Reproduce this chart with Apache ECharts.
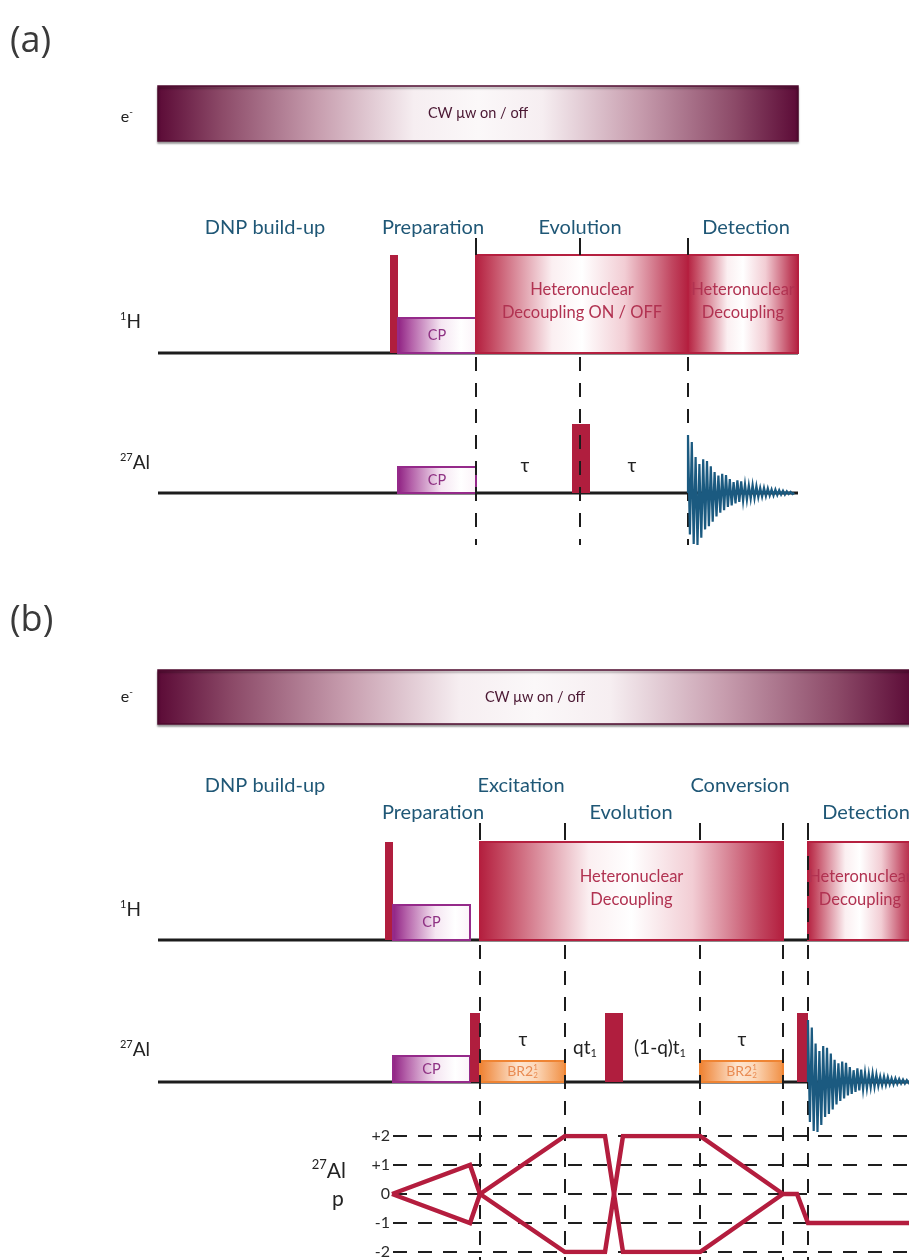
<!DOCTYPE html>
<html>
<head>
<meta charset="utf-8">
<title>DNP-enhanced 27Al pulse sequences</title>
<script src="https://cdn.jsdelivr.net/npm/echarts@6/dist/echarts.min.js"></script>
<style>
html, body { margin: 0; padding: 0; background: #ffffff; }
#chart { width: 909px; height: 1260px; }
</style>
</head>
<body>
<div id="chart"></div>
<script>
// ---------- sequence (a): CP, echo on 27Al, detection ----------
const aMicrowave = [158, 798];
const aChannelSpan = [158, 798];
const aProton = [
  [390, 398, 'pulse'],
  [398, 476, 'cp', 'CP'],
  [476, 688, 'dec', 'Heteronuclear\nDecoupling ON / OFF'],
  [688, 798, 'dec', 'Heteronuclear\nDecoupling']
];
const aAluminium = [
  [398, 476, 'cp', 'CP'],
  [572, 590, 'pulse']
];
const aBoundaries = [476, 580, 688];
const aDelays = [['τ', 525], ['τ', 632]];
const aPhases = [['DNP build-up', 265], ['Preparation', 433], ['Evolution', 580], ['Detection', 746]];
const aFidStart = 688;

// ---------- sequence (b): CP, BR2 recoupled excitation / conversion ----------
const bMicrowave = [158, 912];
const bChannelSpan = [158, 909];
const bProton = [
  [385, 393, 'pulse'],
  [393, 470, 'cp', 'CP'],
  [480, 783, 'dec', 'Heteronuclear\nDecoupling'],
  [808, 912, 'dec', 'Heteronuclear\nDecoupling']
];
const bAluminium = [
  [393, 470, 'cp', 'CP'],
  [470, 480, 'pulse'],
  [480, 565, 'br2', 'BR2^1_2'],
  [605, 623, 'pulse'],
  [700, 783, 'br2', 'BR2^1_2'],
  [797, 808, 'pulse']
];
const bBoundaries = [480, 565, 700, 783, 808];
const bDelays = [['τ', 523], ['qt_1', 585], ['(1-q)t_1', 660], ['τ', 742]];
const bPhasesUpper = [['DNP build-up', 265], ['Excitation', 521], ['Conversion', 740]];
const bPhasesLower = [['Preparation', 433], ['Evolution', 631], ['Detection', 866]];
const bFidStart = 808;

// FID envelope, successive positive / negative excursions (relative)
const fidUpper = [1.00, 0.88, 0.62, 0.50, 0.58, 0.55, 0.46, 0.36, 0.30, 0.33, 0.31, 0.24, 0.19, 0.22,
                  0.20, 0.15, 0.13, 0.14, 0.12, 0.09, 0.09, 0.08, 0.06, 0.06, 0.05, 0.04, 0.03, 0.02];
const fidLower = [0.80, 0.98, 1.00, 0.86, 0.70, 0.64, 0.55, 0.45, 0.38, 0.33, 0.27, 0.24, 0.20, 0.17,
                  0.15, 0.13, 0.11, 0.10, 0.08, 0.07, 0.06, 0.05, 0.05, 0.04, 0.03, 0.03, 0.02, 0.02];

// coherence order pathway of sequence (b): [time, p]
const coherenceLevels = [-2, -1, 0, 1, 2];
const coherencePaths = [
  [[392, 0], [470, 1], [480, 0]],
  [[392, 0], [470, -1], [480, 0]],
  [[480, 0], [565, 2], [605, 2], [623, -2], [700, -2], [783, 0]],
  [[480, 0], [565, -2], [605, -2], [623, 2], [700, 2], [783, 0]],
  [[783, 0], [797, 0], [808, -1], [909, -1]]
];

// ---------- layout (page units, y grows downward) ----------
const LAYOUT = {
  a: { tag: 42, bar: [86, 141], phase: [228], tick: [238, 255], H: 353, Al: 493, dash: [357, 545],
       rowLabel: { e: 117, H: 322, Al: 463 }, delayY: [466, 466], fid: [58, 52] },
  b: { tag: 621, bar: [670, 724], phase: [786, 813], tick: [823, 840], H: 940, Al: 1082, dash: [945, 1260],
       rowLabel: { e: 697, H: 910, Al: 1050 }, delayY: [1040, 1048], fid: [62, 50] }
};
const HEIGHTS = {
  H: { pulse: 98, cp: 35, dec: 98 },
  Al: { pulse: 69, cp: 26, br2: 21 }
};
const FID_STEP = 3.8;
const FONT = 'Lato, "Open Sans", "DejaVu Sans", sans-serif';

const grad = stops => new echarts.graphic.LinearGradient(0, 0, 1, 0,
  stops.map(([offset, color]) => ({ offset, color })));

const BOX_STYLE = {
  pulse: { fill: '#b01e3e', stroke: null, lw: 0 },
  cp: { fill: grad([[0, '#8d1d80'], [0.18, '#b461a9'], [0.55, '#f5e6f2'], [0.8, '#ffffff'], [1, '#fbf2f8']]),
        stroke: '#952a8a', lw: 2 },
  dec: { fill: grad([[0, '#b31d3d'], [0.08, '#c44a62'], [0.36, '#fbeff1'], [0.5, '#ffffff'],
                     [0.7, '#f2cdd4'], [0.92, '#c14660'], [1, '#b31d3d']]),
         stroke: '#b51f3f', lw: 2 },
  br2: { fill: grad([[0, '#ee7f2e'], [0.45, '#fde6d2'], [0.65, '#fcd9bb'], [1, '#f08d40']]),
         stroke: '#ef8433', lw: 2 }
};
const MW_FILL = grad([[0, '#5b0a36'], [0.1, '#8c4a68'], [0.25, '#c79dae'], [0.4, '#f6eef1'],
                      [0.5, '#fbf8f9'], [0.6, '#f6eef1'], [0.75, '#c79dae'], [0.9, '#8c4a68'], [1, '#5b0a36']]);

const TEXT_STYLE = {
  tag:   { size: 36, color: '#3a3a3a', family: '"Open Sans", Lato, sans-serif' },
  phase: { size: 20, color: '#1f5776' },
  row:   { size: 19, color: '#222222' },
  e:     { size: 16, color: '#222222' },
  cw:    { size: 14.5, color: '#4a1732' },
  dec:   { size: 16.5, color: '#b13251', lh: 1.38 },
  cp:    { size: 14.5, color: '#8e3183' },
  br2:   { size: 14, color: '#e98b52' },
  delay: { size: 19, color: '#222222' },
  coh:   { size: 21, color: '#222222' }
};

// ---------- assemble drawable items ----------
const boxes = [], lines = [], texts = [], bars = [], fids = [];

function addChannel(items, base, heights, span) {
  lines.push({ x0: span[0], y0: base, x1: span[1], y1: base, kind: 'base' });
  items.forEach(([x0, x1, kind, label]) => {
    const h = heights[kind];
    boxes.push({ x0, x1, top: base - h, bottom: base, kind });
    if (label) {
      const off = kind === 'dec' ? -3 : 0;
      texts.push({ x: (x0 + x1) / 2, y: base - h / 2 + off, spec: label, st: kind });
    }
  });
}

function addPanel(L, tag, mw, span, proton, aluminium, bounds, delays, phaseRows, fidStart) {
  texts.push({ x: 10, y: L.tag, spec: tag, st: 'tag', align: 'left' });
  bars.push({ x0: mw[0], x1: mw[1], top: L.bar[0], bottom: L.bar[1] });
  texts.push({ x: (mw[0] + mw[1]) / 2, y: (L.bar[0] + L.bar[1]) / 2, spec: 'CW μw on / off', st: 'cw' });
  texts.push({ x: 133, y: L.rowLabel.e, spec: 'e^-', st: 'e', align: 'right' });
  texts.push({ x: 141, y: L.rowLabel.H, spec: '^1H', st: 'row', align: 'right' });
  texts.push({ x: 150, y: L.rowLabel.Al, spec: '^27Al', st: 'row', align: 'right' });
  phaseRows.forEach((row, i) => row.forEach(([t, x]) => texts.push({ x, y: L.phase[i], spec: t, st: 'phase' })));
  addChannel(proton, L.H, HEIGHTS.H, span);
  addChannel(aluminium, L.Al, HEIGHTS.Al, span);
  bounds.forEach(x => {
    lines.push({ x0: x, y0: L.tick[0], x1: x, y1: L.tick[1], kind: 'tick' });
    lines.push({ x0: x, y0: L.dash[0], x1: x, y1: L.dash[1], kind: 'dash' });
  });
  delays.forEach(([t, x]) => texts.push({ x, y: t === 'τ' ? L.delayY[0] : L.delayY[1], spec: t, st: 'delay' }));
  fids.push({ x: fidStart, base: L.Al, up: L.fid[0], down: L.fid[1] });
}

addPanel(LAYOUT.a, '(a)', aMicrowave, aChannelSpan, aProton, aAluminium, aBoundaries,
         aDelays, [aPhases], aFidStart);
addPanel(LAYOUT.b, '(b)', bMicrowave, bChannelSpan, bProton, bAluminium, bBoundaries,
         bDelays, [bPhasesUpper, bPhasesLower], bFidStart);
// the detection boundary of (b) continues through the decoupling block
lines.push({ x0: 808, y0: 856, x1: 808, y1: 940, kind: 'dash' });
// coherence pathway axis title
texts.push({ x: 346, y: 1171, spec: '^27Al', st: 'coh', align: 'right' });
texts.push({ x: 338, y: 1199, spec: 'p', st: 'coh' });

// ---------- text with super/subscripts ----------
const measure = document.createElement('canvas').getContext('2d');
function fontOf(size, st) { return (st.weight || 'normal') + ' ' + size + 'px ' + (st.family || FONT); }
function widthOf(t, size, st) { measure.font = fontOf(size, st); return measure.measureText(t).width; }

function textEls(cx, cy, spec, st, align) {
  const els = [];
  const rows = spec.split('\n');
  const lh = st.size * (st.lh || 1.3);
  rows.forEach((row, li) => {
    const y = cy + (li - (rows.length - 1) / 2) * lh;
    const toks = row.match(/\^[0-9+\-]+|_[0-9]+|[^_^]+/g).map(t =>
      t[0] === '^' ? { t: t.slice(1), k: 'sup' } : t[0] === '_' ? { t: t.slice(1), k: 'sub' } : { t, k: 'n' });
    let total = 0;
    toks.forEach((tk, i) => {
      tk.size = tk.k === 'n' ? st.size : Math.round(st.size * 0.6);
      tk.w = widthOf(tk.t, tk.size, st);
      tk.stacked = tk.k === 'sub' && i > 0 && toks[i - 1].k === 'sup';
      total += tk.stacked ? Math.max(0, tk.w - toks[i - 1].w) : tk.w;
    });
    let x = align === 'left' ? cx : align === 'right' ? cx - total : cx - total / 2;
    let lastStart = x;
    toks.forEach(tk => {
      const start = tk.stacked ? lastStart : x;
      const dy = tk.k === 'sup' ? -st.size * 0.3 : tk.k === 'sub' ? st.size * 0.3 : 0;
      els.push({
        type: 'text', x: start, y: y + dy,
        style: { text: tk.t, font: fontOf(tk.size, st), fill: st.color,
                 align: 'left', verticalAlign: 'middle', textAlign: 'left', textVerticalAlign: 'middle' }
      });
      if (tk.stacked) { x = Math.max(x, start + tk.w); } else { lastStart = start; x = start + tk.w; }
    });
  });
  return els;
}

// ---------- chart ----------
const chart = echarts.init(document.getElementById('chart'), null, { renderer: 'canvas', width: 909, height: 1260 });

const rectOf = (api, x0, top, x1, bottom) => {
  const p0 = api.coord([x0, top]);
  const p1 = api.coord([x1, bottom]);
  return { x: p0[0], y: p0[1], width: p1[0] - p0[0], height: p1[1] - p0[1] };
};
const baseLines = lines.filter(l => l.kind === 'base');
const guideLines = lines.filter(l => l.kind !== 'base');

const option = {
  animation: false,
  backgroundColor: '#ffffff',
  grid: [
    { left: 0, top: 0, width: 909, height: 1260 },
    { left: 393, top: 1136, width: 516, height: 116 }
  ],
  xAxis: [
    { type: 'value', gridIndex: 0, min: 0, max: 909, show: false },
    { type: 'value', gridIndex: 1, min: 393, max: 909, show: false }
  ],
  yAxis: [
    { type: 'value', gridIndex: 0, min: 0, max: 1260, inverse: true, show: false },
    {
      type: 'value', gridIndex: 1, min: coherenceLevels[0], max: coherenceLevels[coherenceLevels.length - 1],
      interval: 1,
      axisLine: { show: false }, axisTick: { show: false },
      axisLabel: {
        margin: 3, fontSize: 16, color: '#2a2a2a', fontFamily: FONT,
        formatter: v => (v > 0 ? '+' + v : String(v))
      },
      splitLine: { show: true, lineStyle: { color: '#1e1e1e', width: 2, type: [14, 11] } }
    }
  ],
  series: [
    {
      // microwave irradiation bars
      type: 'custom', xAxisIndex: 0, yAxisIndex: 0, z: 1, clip: false,
      data: bars.map(b => [b.x0, b.top]),
      renderItem: (params, api) => {
        const b = bars[params.dataIndex];
        return {
          type: 'rect', shape: rectOf(api, b.x0, b.top, b.x1, b.bottom),
          style: { fill: MW_FILL, stroke: '#4e0a2e', lineWidth: 1.5,
                   shadowColor: 'rgba(0,0,0,0.35)', shadowBlur: 2, shadowOffsetY: 2 }
        };
      }
    },
    {
      // channel baselines
      type: 'custom', xAxisIndex: 0, yAxisIndex: 0, z: 2, clip: false,
      data: baseLines.map(l => [l.x0, l.y0]),
      renderItem: (params, api) => {
        const l = baseLines[params.dataIndex];
        const p0 = api.coord([l.x0, l.y0]), p1 = api.coord([l.x1, l.y1]);
        return { type: 'line', shape: { x1: p0[0], y1: p0[1], x2: p1[0], y2: p1[1] },
                 style: { stroke: '#1c1c1c', lineWidth: 3 } };
      }
    },
    {
      // pulses, CP contacts, decoupling and recoupling blocks
      type: 'custom', xAxisIndex: 0, yAxisIndex: 0, z: 3, clip: false,
      data: boxes.map(b => [b.x0, b.top]),
      renderItem: (params, api) => {
        const b = boxes[params.dataIndex];
        const s = BOX_STYLE[b.kind];
        return {
          type: 'rect', shape: rectOf(api, b.x0, b.top, b.x1, b.bottom),
          style: { fill: s.fill, stroke: s.stroke, lineWidth: s.lw }
        };
      }
    },
    {
      // period boundaries: ticks and dashed guides
      type: 'custom', xAxisIndex: 0, yAxisIndex: 0, z: 4, clip: false,
      data: guideLines.map(l => [l.x0, l.y0]),
      renderItem: (params, api) => {
        const l = guideLines[params.dataIndex];
        const p0 = api.coord([l.x0, l.y0]), p1 = api.coord([l.x1, l.y1]);
        return { type: 'line', shape: { x1: p0[0], y1: p0[1], x2: p1[0], y2: p1[1] },
                 style: { stroke: '#1c1c1c', lineWidth: 2, lineDash: l.kind === 'dash' ? [14, 12] : null } };
      }
    },
    {
      // free induction decays
      type: 'custom', xAxisIndex: 0, yAxisIndex: 0, z: 5, clip: false,
      data: fids.map(f => [f.x, f.base]),
      renderItem: (params, api) => {
        const f = fids[params.dataIndex];
        const pts = [api.coord([f.x, f.base])];
        fidUpper.forEach((u, i) => {
          const x = f.x + i * FID_STEP;
          pts.push(api.coord([x, f.base - u * f.up]));
          pts.push(api.coord([x + FID_STEP / 2, f.base + fidLower[i] * f.down]));
        });
        pts.push(api.coord([f.x + fidUpper.length * FID_STEP, f.base]));
        return { type: 'polyline', shape: { points: pts },
                 style: { stroke: '#1b5a80', lineWidth: 2.2, fill: null } };
      }
    },
    ...coherencePaths.map(path => ({
      // coherence transfer pathway
      type: 'line', xAxisIndex: 1, yAxisIndex: 1, z: 6,
      data: path, showSymbol: false, symbol: 'none', silent: true,
      lineStyle: { color: '#b41d3e', width: 4.5, join: 'miter', cap: 'butt' }
    })),
    {
      // all annotations
      type: 'custom', xAxisIndex: 0, yAxisIndex: 0, z: 10, clip: false,
      data: texts.map(t => [t.x, t.y]),
      renderItem: (params, api) => {
        const t = texts[params.dataIndex];
        const p = api.coord([t.x, t.y]);
        return { type: 'group', children: textEls(p[0], p[1], t.spec, TEXT_STYLE[t.st], t.align) };
      }
    }
  ]
};

chart.setOption(option);
</script>
</body>
</html>
